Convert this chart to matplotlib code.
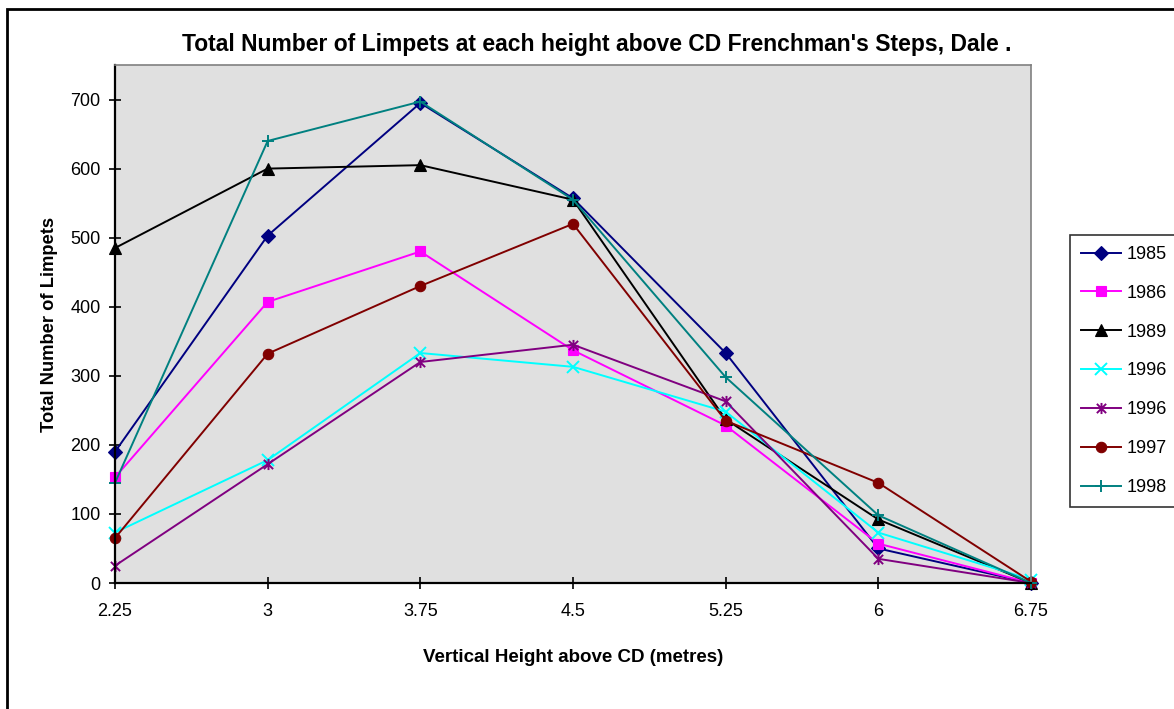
import matplotlib.pyplot as plt
from matplotlib.path import Path
from matplotlib.patches import Rectangle

plt.rcParams['font.family'] = ['Liberation Sans', 'DejaVu Sans']

heights = [2.25, 3, 3.75, 4.5, 5.25, 6, 6.75]
labels = ['1985', '1986', '1989', '1996', '1996', '1997', '1998']
y1985 = [190, 503, 695, 557, 333, 50, 0]
y1986 = [153, 407, 480, 337, 228, 57, 0]
y1989 = [485, 600, 605, 555, 237, 92, 0]
y1996a = [73, 178, 333, 313, 248, 73, 5]
y1996b = [25, 172, 320, 345, 263, 35, 0]
y1997 = [65, 332, 430, 520, 235, 145, 2]
y1998 = [145, 640, 697, 555, 298, 98, 0]

# excel style asterisk: x with a vertical bar
star = Path([(-1, -1), (1, 1), (-1, 1), (1, -1), (0, -1.2), (0, 1.2)],
            [Path.MOVETO, Path.LINETO, Path.MOVETO, Path.LINETO, Path.MOVETO, Path.LINETO])

series = [y1985, y1986, y1989, y1996a, y1996b, y1997, y1998]
colors = ['#000080', '#FF00FF', '#000000', '#00FFFF', '#800080', '#800000', '#008080']
markers = ['D', 's', '^', 'x', star, 'o', '+']
msizes = [7, 7.5, 8, 8, 8, 7.5, 9]

fig = plt.figure(figsize=(11.74, 7.09), dpi=100)
ax = fig.add_axes([115/1174, 1 - 583/709, (1031-115)/1174, (583-65)/709])
ax.set_facecolor('#E0E0E0')

for ys, c, m, ms, lab in zip(series, colors, markers, msizes, labels):
    ax.plot(heights, ys, color=c, marker=m, markersize=ms, linewidth=1.4,
            markeredgewidth=1.4 if m in ('x', '+') or m is star else 0.8,
            markeredgecolor=c, markerfacecolor=c, label=lab, clip_on=False)

ax.set_xlim(2.25, 6.75)
ax.set_ylim(0, 750)
ax.set_xticks(heights)
ax.set_xticklabels(['2.25', '3', '3.75', '4.5', '5.25', '6', '6.75'])
ax.set_yticks(range(0, 701, 100))
ax.tick_params(direction='inout', length=9, width=1.2, labelsize=13, pad=6)
ax.tick_params(axis='x', pad=10)
for s in ['top', 'right']:
    ax.spines[s].set_color('#808080')
    ax.spines[s].set_linewidth(1.2)
for s in ['left', 'bottom']:
    ax.spines[s].set_linewidth(1.6)

ax.set_xlabel('Vertical Height above CD (metres)', fontsize=13.5, fontweight='bold', labelpad=21)
ax.set_ylabel('Total Number of Limpets', fontsize=13.2, fontweight='bold', labelpad=9)
fig.text(597/1174, 1 - 45/709, "Total Number of Limpets at each height above CD Frenchman's Steps, Dale .",
         ha='center', va='center', fontsize=16.5, fontweight='bold')

leg = ax.legend(loc='upper left', bbox_to_anchor=(1070/1174, 1 - 235/709),
                bbox_transform=fig.transFigure, fontsize=13, frameon=True, fancybox=False,
                edgecolor='black', handlelength=2.2, handletextpad=0.35, labelspacing=1.21,
                borderpad=0.6, borderaxespad=0)
leg.get_frame().set_linewidth(1.2)

# outer chart border
fig.patches.append(Rectangle((7/1174, -0.1), 1.2, (709-9)/709 + 0.1, transform=fig.transFigure,
                             fill=False, edgecolor='black', linewidth=2))

fig.savefig('out.png', dpi=100)
